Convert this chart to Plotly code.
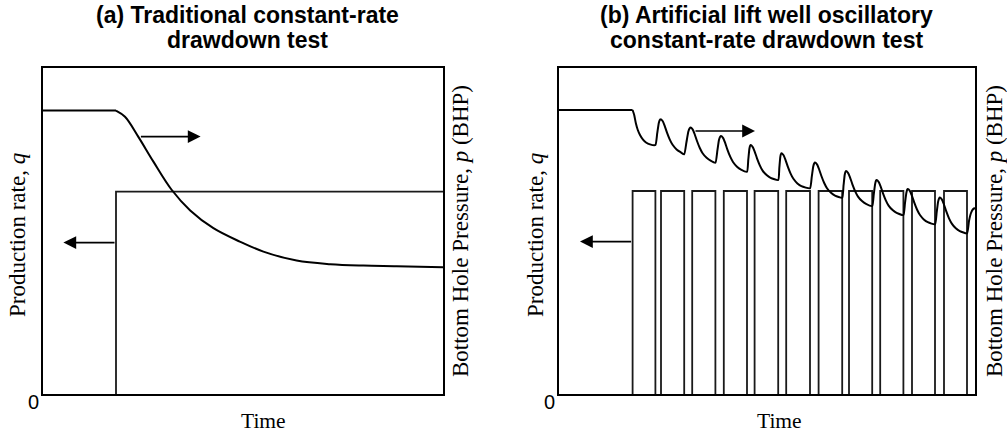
import plotly.graph_objects as go

W, H = 1007, 436

# ---------------- Panel (a): traditional constant-rate drawdown ----------------
time_a_pressure = [0, 18.25, 20.5, 23.8, 27.6, 32.2, 36.8, 42.6, 49.2, 55.1, 63.4, 71.8, 80.1, 88.4, 100]
bhp_a = [141.7, 141.7, 138.6, 128.7, 116.2, 102.0, 91.8, 82.9, 76.2, 71.2, 66.7, 64.9, 64.2, 63.9, 63.4]
time_a_rate = [18.25, 18.25, 100]
rate_a = [0, 101.2, 101.2]

# ---------------- Panel (b): oscillatory artificial-lift drawdown ----------------
pulse_start_b = [18.4, 25.5, 33.3, 41.2, 48.9, 56.8, 64.9, 72.5, 80.3, 88.25, 96.25]
pulse_end_b = [24.1, 31.3, 39.1, 47.0, 54.8, 62.75, 70.8, 78.3, 86.1, 94.0, 102.0]
rate_b_level = 101.5

time_b_pressure = [
    0, 18.4, 18.8, 19.2, 19.7, 20.25, 21.0, 21.75, 22.75, 24.1,
    24.55, 24.95, 25.2, 25.4,
    25.9, 26.4, 27.0, 27.7, 28.4, 29.4, 30.4, 31.3,
    31.86, 32.34, 32.66, 32.9,
    33.4, 33.9, 34.5, 35.2, 35.9, 36.9, 37.9, 39.1,
    39.59, 39.99, 40.29, 40.5,
    41.0, 41.5, 42.1, 42.8, 43.5, 44.5, 45.5, 47.0,
    47.32, 47.59, 47.77, 47.9,
    48.4, 48.9, 49.5, 50.2, 50.9, 51.9, 52.9, 54.8,
    55.08, 55.32, 55.48, 55.6,
    56.1, 56.6, 57.2, 57.9, 58.6, 59.6, 60.6, 62.75,
    63.19, 63.56, 63.81, 64.0,
    64.5, 65.0, 65.6, 66.3, 67.0, 68.0, 69.0, 70.8,
    71.13, 71.42, 71.61, 71.75,
    72.25, 72.75, 73.35, 74.05, 74.75, 75.75, 76.75, 78.3,
    78.69, 79.04, 79.24, 79.4,
    79.9, 80.4, 81.0, 81.7, 82.4, 83.4, 84.4, 86.1,
    86.49, 86.84, 87.04, 87.2,
    87.7, 88.2, 88.8, 89.5, 90.2, 91.2, 92.2, 94.0,
    94.42, 94.78, 95.02, 95.2,
    95.7, 96.2, 96.8, 97.5, 98.2, 99.2, 100.2, 102.0,
    102.5, 103.0, 103.5, 104.0,
]
bhp_b = [
    142, 142, 139.5, 135.5, 132, 129.5, 127.2, 125.75, 124.8, 124.5,
    130.3, 135.5, 137.0, 137.4,
    136.5, 134.2, 130.7, 127.2, 124.6, 122.3, 120.9, 119.85,
    125.9, 131.2, 132.8, 133.2,
    132.3, 130.0, 126.5, 123.0, 120.4, 118.1, 116.7, 115.65,
    121.65, 127.0, 128.6, 129.0,
    128.1, 125.8, 122.2, 118.65, 116.0, 113.65, 112.2, 111.15,
    117.15, 122.5, 124.1, 124.5,
    123.6, 121.35, 117.85, 114.35, 111.7, 109.45, 108.05, 107.0,
    113.0, 118.4, 120.0, 120.4,
    119.5, 117.2, 113.7, 110.2, 107.6, 105.3, 103.9, 102.85,
    108.6, 113.8, 115.3, 115.7,
    114.8, 112.5, 109.0, 105.5, 102.9, 100.6, 99.2, 98.15,
    104.15, 109.5, 111.1, 111.5,
    110.6, 108.35, 104.85, 101.35, 98.7, 96.45, 95.05, 94.0,
    99.85, 105.05, 106.6, 107.0,
    106.1, 103.85, 100.35, 96.85, 94.2, 91.95, 90.55, 89.5,
    95.35, 100.55, 102.1, 102.5,
    101.6, 99.3, 95.8, 92.25, 89.6, 87.3, 85.9, 84.85,
    90.85, 96.2, 97.8, 98.2,
    97.3, 95.0, 91.4, 87.85, 85.2, 82.85, 81.45, 80.35,
    86.5, 90.5, 92.4, 93.0,
]

# arrows: (tip_t, tip_v, tail_t, tail_v)
arrows_a = [(39.4, 128.7, 24.1, 128.7), (5.1, 75.7, 18.25, 75.7)]
arrows_b = [(49.0, 131.5, 33.75, 131.5), (5.25, 76.2, 18.4, 76.2)]

titles = [["(a) Traditional constant-rate", "drawdown test"],
          ["(b) Artificial lift well oscillatory", "constant-rate drawdown test"]]
x_label = "Time"
y_label_left = "Production rate, <i>q</i>"
y_label_right = "Bottom Hole Pressure, <i>p</i> (BHP)"

# ---------------- build polyline for pulsed rate ----------------
rate_b_x, rate_b_y = [], []
for s, e in zip(pulse_start_b, pulse_end_b):
    rate_b_x += [s, s, e, e, None]
    rate_b_y += [0, rate_b_level, rate_b_level, 0, None]


def px(x):
    return x / W


def py(y):
    return 1 - y / H


fig = go.Figure()
RATE = dict(color="#1a1a1a", width=1.8)
FLAT = dict(color="black", width=2)

# panel (a)
fig.add_trace(go.Scatter(x=time_a_rate, y=rate_a, mode="lines", line=RATE, xaxis="x", yaxis="y"))
fig.add_trace(go.Scatter(x=time_a_pressure[:2], y=bhp_a[:2], mode="lines", line=FLAT,
                         xaxis="x", yaxis="y"))
fig.add_trace(go.Scatter(x=time_a_pressure[1:], y=bhp_a[1:], mode="lines",
                         line=dict(color="black", width=2, shape="spline", smoothing=1.0),
                         xaxis="x", yaxis="y"))
# panel (b)
fig.add_trace(go.Scatter(x=rate_b_x, y=rate_b_y, mode="lines", line=RATE, xaxis="x2", yaxis="y2"))
fig.add_trace(go.Scatter(x=time_b_pressure[:2], y=bhp_b[:2], mode="lines", line=FLAT,
                         xaxis="x2", yaxis="y2"))
fig.add_trace(go.Scatter(x=time_b_pressure[1:], y=bhp_b[1:], mode="lines",
                         line=dict(color="black", width=2, shape="spline", smoothing=0.45),
                         xaxis="x2", yaxis="y2"))

ax_common = dict(showline=True, mirror=True, linecolor="black", linewidth=2,
                 showgrid=False, zeroline=False, showticklabels=False, ticks="",
                 fixedrange=True)
ydom = [py(394), py(68)]
fig.update_layout(
    width=W, height=H, autosize=False,
    margin=dict(l=0, r=0, t=0, b=0),
    paper_bgcolor="white", plot_bgcolor="white",
    showlegend=False,
    xaxis=dict(domain=[px(43), px(443)], range=[0, 100], anchor="y", **ax_common),
    yaxis=dict(domain=ydom, range=[0, 163], anchor="x", **ax_common),
    xaxis2=dict(domain=[px(559), px(975)], range=[0, 104], anchor="y2", **ax_common),
    yaxis2=dict(domain=ydom, range=[0, 163], anchor="x2", **ax_common),
)

ann = []
for (xr, yr, arrs) in [("x", "y", arrows_a), ("x2", "y2", arrows_b)]:
    for tx, ty, sx, sy in arrs:
        ann.append(dict(x=tx, y=ty, ax=sx, ay=sy, xref=xr, yref=yr, axref=xr, ayref=yr,
                        text="", showarrow=True, arrowhead=2, arrowsize=1.6,
                        arrowwidth=1.6, arrowcolor="black"))

title_font = dict(family="Liberation Sans, Arial", size=23, color="black")
serif_x = dict(family="Liberation Serif, Times New Roman", size=21.5, color="black")
serif_y = dict(family="Liberation Serif, Times New Roman", size=23, color="black")
sans0 = dict(family="Liberation Sans, Arial", size=20, color="black")

for cx, lines in [(247, titles[0]), (766, titles[1])]:
    for i, ln in enumerate(lines):
        ann.append(dict(x=px(cx), y=py(15 + 25 * i), xref="paper", yref="paper",
                        text=f"<b>{ln}</b>", showarrow=False, font=title_font,
                        xanchor="center", yanchor="middle"))

for cx in [263, 779]:
    ann.append(dict(x=px(cx), y=py(421), xref="paper", yref="paper", text=x_label,
                    showarrow=False, font=serif_x, xanchor="center", yanchor="middle"))

for cx in [33, 549]:
    ann.append(dict(x=px(cx), y=py(402), xref="paper", yref="paper", text="0",
                    showarrow=False, font=sans0, xanchor="center", yanchor="middle"))

for cx in [17, 535]:
    ann.append(dict(x=px(cx), y=py(319), xref="paper", yref="paper", text=y_label_left,
                    textangle=-90, showarrow=False, font=serif_y,
                    xanchor="center", yanchor="bottom"))

for cx in [460, 994]:
    ann.append(dict(x=px(cx), y=py(379), xref="paper", yref="paper", text=y_label_right,
                    textangle=-90, showarrow=False, font=serif_y,
                    xanchor="center", yanchor="bottom"))

fig.update_layout(annotations=ann)
fig.write_html("out.html")
